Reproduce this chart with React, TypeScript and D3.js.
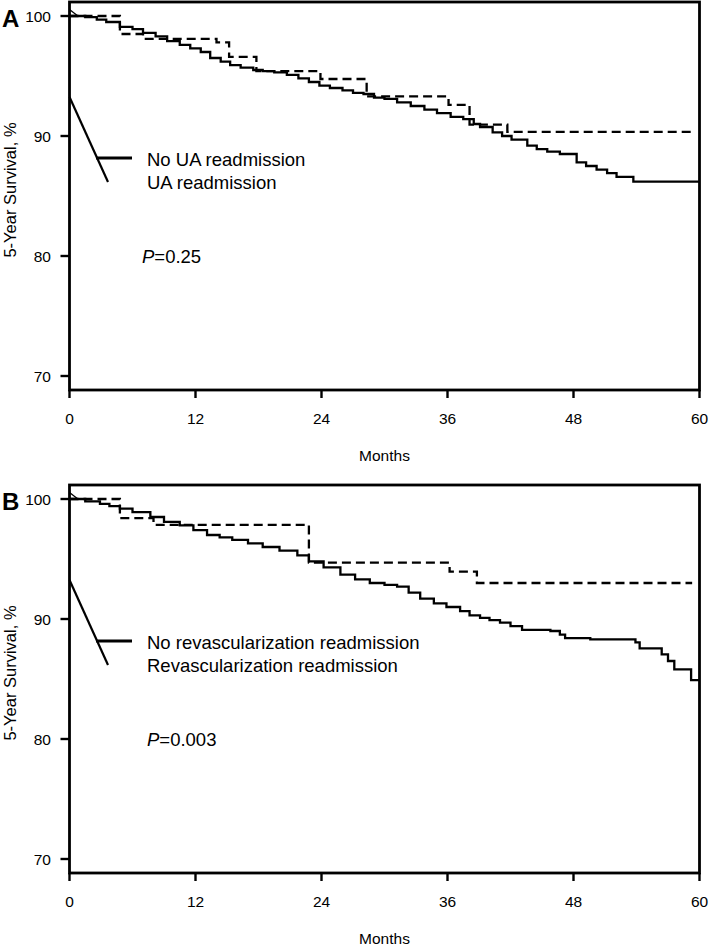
import React from "react";
import * as d3 from "d3";

// ---------- data ----------
const xTicks = [0, 12, 24, 36, 48, 60];
const yTicks = [70, 80, 90, 100];

// Panel A: solid = No UA readmission
const aNoMonths = [0, 1.5, 2.6, 3.5, 4.8, 6, 7, 8.2, 9.3, 10.5, 11.5, 12.5, 13.4, 14.4, 15.3, 16.3, 17.5, 18.4, 19.5, 20.7, 21.8, 22.8, 23.8, 24.8, 26, 27, 28, 29, 30, 31.2, 32.5, 33.8, 35, 36.3, 37.5, 38.5, 39.1, 40.3, 41.2, 42.1, 43.6, 44.5, 45.5, 46.7, 48.3, 49.2, 50.2, 51.2, 52.1, 53.7, 60];
const aNoSurv = [100, 99.9, 99.7, 99.5, 99.1, 98.9, 98.6, 98.3, 97.9, 97.6, 97.3, 97.0, 96.5, 96.2, 95.9, 95.7, 95.5, 95.4, 95.3, 95.1, 94.8, 94.5, 94.2, 94.0, 93.8, 93.6, 93.5, 93.2, 93.1, 92.8, 92.5, 92.2, 91.9, 91.6, 91.4, 91.0, 90.75, 90.3, 90.0, 89.7, 89.2, 88.9, 88.7, 88.5, 87.8, 87.5, 87.2, 86.9, 86.6, 86.2, 86.2];
// Panel A: dashed = UA readmission
const aYesMonths = [0, 4.8, 7.0, 14.0, 15.2, 17.8, 23.9, 28.3, 36.1, 38.1, 41.7, 59.3];
const aYesSurv = [100, 98.5, 98.1, 97.8, 96.6, 95.4, 94.75, 93.3, 92.6, 90.95, 90.35, 90.35];

// Panel B: solid = No revascularization readmission
const bNoMonths = [0, 1.5, 2.9, 3.8, 4.8, 6, 7.7, 9, 10.5, 11.8, 13.1, 14.3, 15.5, 17, 18.4, 20, 21.7, 22.8, 24.2, 25.8, 27.2, 28.6, 30, 31.2, 32.3, 33.4, 34.7, 35.9, 37.2, 38.1, 39.1, 40, 41, 42, 43.1, 45.8, 46.7, 47.2, 49.6, 53.9, 54.3, 56.4, 57, 57.6, 59.2, 60];
const bNoSurv = [100, 99.8, 99.6, 99.4, 99.2, 98.9, 98.5, 98.1, 97.8, 97.4, 97.0, 96.8, 96.6, 96.3, 96.0, 95.7, 95.3, 94.8, 94.3, 93.7, 93.3, 93.0, 92.85, 92.7, 92.2, 91.7, 91.3, 91.0, 90.65, 90.3, 90.1, 89.9, 89.7, 89.4, 89.1, 89.0, 88.7, 88.4, 88.3, 88.05, 87.55, 87.05, 86.5, 85.8, 84.9, 84.9];
// Panel B: dashed = Revascularization readmission
const bYesMonths = [0, 4.8, 8.0, 22.8, 36.2, 38.8, 59.3];
const bYesSurv = [100, 98.4, 97.85, 94.7, 93.95, 93.0, 93.0];

const panels = [
  {
    letter: "A",
    noM: aNoMonths, noS: aNoSurv, yesM: aYesMonths, yesS: aYesSurv,
    legend: ["No UA readmission", "UA readmission"],
    pval: "0.25", pX: 142,
  },
  {
    letter: "B",
    noM: bNoMonths, noS: bNoSurv, yesM: bYesMonths, yesS: bYesSurv,
    legend: ["No revascularization readmission", "Revascularization readmission"],
    pval: "0.003", pX: 147,
  },
];

// ---------- layout ----------
const W = 709;
const H = 946;
const LEFT = 69.5;
const RIGHT = 699.5;
const TOP = 2;
const BOTTOM = 390;
const OFFSET = 483;
const FONT = "'Liberation Sans', Arial, Helvetica, sans-serif";

const x = d3.scaleLinear().domain([0, 60]).range([LEFT, RIGHT]);
const y = d3.scaleLinear().domain([68.833, 101.167]).range([BOTTOM, TOP]);

const line = d3
  .line<[number, number]>()
  .x((d) => x(d[0]))
  .y((d) => y(d[1]))
  .curve(d3.curveStepAfter);

function Panel({ p, dy }: { p: (typeof panels)[number]; dy: number }) {
  const noData = p.noM.map((m, i) => [m, p.noS[i]] as [number, number]);
  const yesData = p.yesM.map((m, i) => [m, p.yesS[i]] as [number, number]);
  return (
    <g transform={`translate(0,${dy})`}>
      {/* curves */}
      <path d={line(noData) || ""} fill="none" stroke="#000" strokeWidth={2.3} />
      <path d={line(yesData) || ""} fill="none" stroke="#000" strokeWidth={2.3} strokeDasharray="9,5" />
      {/* small artifact near start */}
      <line x1={x(0)} y1={y(100.55)} x2={x(0.8)} y2={y(100)} stroke="#000" strokeWidth={1.3} />
      {/* legend */}
      <line x1={LEFT} y1={97} x2={108} y2={182} stroke="#000" strokeWidth={2.2} />
      <line x1={96} y1={158} x2={132} y2={158} stroke="#000" strokeWidth={2.8} />
      <text x={147} y={166} fontSize={18.5} fontFamily={FONT}>{p.legend[0]}</text>
      <text x={147} y={189} fontSize={18.5} fontFamily={FONT}>{p.legend[1]}</text>
      <text x={p.pX} y={263} fontSize={18.5} fontFamily={FONT}>
        <tspan fontStyle="italic">P</tspan>={p.pval}
      </text>
      {/* frame */}
      <rect x={LEFT} y={TOP} width={RIGHT - LEFT} height={BOTTOM - TOP} fill="none" stroke="#000" strokeWidth={2.8} />
      {/* y ticks */}
      {yTicks.map((t) => (
        <g key={t}>
          <line x1={LEFT - 9} x2={LEFT} y1={y(t)} y2={y(t)} stroke="#000" strokeWidth={2.4} />
          <text x={51} y={y(t)} dy="0.36em" textAnchor="end" fontSize={15.5} fontFamily={FONT}>{t}</text>
        </g>
      ))}
      {/* x ticks */}
      {xTicks.map((t) => (
        <g key={t}>
          <line x1={x(t)} x2={x(t)} y1={BOTTOM} y2={BOTTOM + 8} stroke="#000" strokeWidth={2.4} />
          <text x={x(t)} y={BOTTOM + 34} textAnchor="middle" fontSize={15.5} fontFamily={FONT}>{t}</text>
        </g>
      ))}
      <text x={(LEFT + RIGHT) / 2} y={BOTTOM + 71} textAnchor="middle" fontSize={15.5} fontFamily={FONT}>Months</text>
      <text transform={`translate(16,190) rotate(-90)`} textAnchor="middle" fontSize={16.5} fontFamily={FONT}>5-Year Survival, %</text>
      <text x={2} y={27} fontSize={24} fontWeight="bold" fontFamily={FONT}>{p.letter}</text>
    </g>
  );
}

export default function App() {
  return (
    <svg
      width={W}
      height={H}
      viewBox={`0 0 ${W} ${H}`}
      style={{ position: "absolute", left: 0, top: 0, background: "#fff" }}
    >
      <rect x={0} y={0} width={W} height={H} fill="#fff" />
      {panels.map((p, i) => (
        <Panel key={p.letter} p={p} dy={i * OFFSET} />
      ))}
    </svg>
  );
}
